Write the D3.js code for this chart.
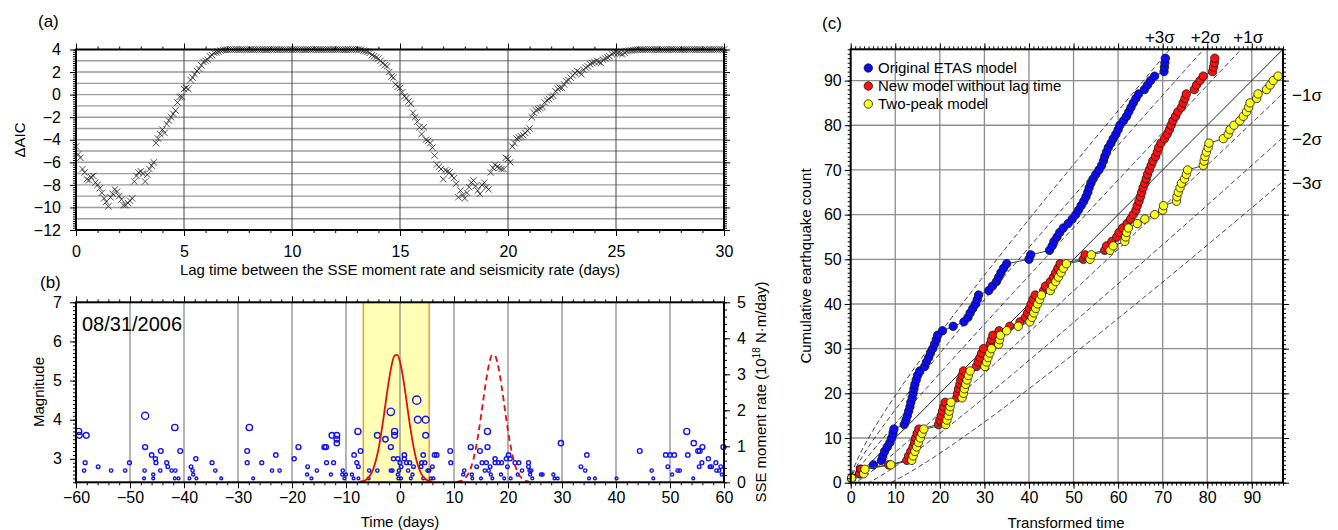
<!DOCTYPE html>
<html><head><meta charset="utf-8">
<script src="https://cdn.jsdelivr.net/npm/d3@7"></script>
<style>body{margin:0;background:#fff}svg{display:block}</style>
</head><body><svg id="chart" width="1338" height="530"></svg>
<script>
// ---------------- DATA ----------------
// (a) Delta AIC vs lag time (0.0 .. 30.0 days, every 0.1 day)
const lagDays = d3.range(0, 30.001, 0.1);
const deltaAIC = [
-4.6,-5.3,-5.6,-6.6,-6.9,-7.5,-7.6,-7.3,-7.2,-7.8,
-8.0,-8.3,-8.7,-9.2,-9.5,-9.9,-9.1,-8.8,-8.4,-8.6,
-9.0,-9.3,-9.8,-9.8,-9.6,-9.4,-9.2,-7.7,-7.2,-6.9,
-6.8,-7.0,-7.7,-7.1,-6.6,-6.3,-6.0,-4.3,-3.9,-3.5,
-3.1,-3.4,-2.6,-2.3,-2.0,-1.7,-1.4,-0.7,-0.2,-0.2,
0.5,0.6,0.5,1.3,1.5,1.8,2.1,2.3,2.6,2.9,
3.0,3.1,3.4,3.5,3.7,3.75,3.8,3.9,3.95,3.97,
3.98,3.99,4.00,3.99,4.00,4.00,3.99,4.00,3.99,
3.98,3.99,4.00,3.99,4.00,4.00,3.99,4.00,3.99,
3.98,3.99,4.00,3.99,4.00,4.00,3.99,4.00,3.99,
3.98,3.99,4.00,3.99,4.00,4.00,3.99,4.00,3.99,
3.98,3.99,4.00,3.99,4.00,4.00,3.99,4.00,3.99,
3.98,3.99,4.00,3.99,4.00,4.00,3.99,4.00,3.99,
3.98,3.99,4.00,3.99,4.00,4.00,3.99,4.00,3.99,
3.9,3.85,3.8,3.7,3.5,3.4,3.3,3.2,3.0,2.8,2.6,2.5,2.0,1.6,1.5,0.9,0.7,0.6,0.2,-0.15,-0.3,-0.6,-0.8,-1.6,-2.0,-2.4,-2.9,
-3.5,-2.9,-4.0,-4.1,-4.3,-4.7,-5.4,-6.2,-6.4,-6.6,
-7.5,-6.7,-6.8,-6.9,-7.2,-7.4,-7.9,-9.1,-8.5,-8.9,
-9.2,-8.7,-8.2,-7.8,-7.6,-8.1,-8.5,-8.8,-8.0,-7.8,
-8.2,-8.4,-6.9,-6.5,-6.2,-6.4,-6.5,-6.6,-6.6,-5.6,
-5.7,-6.0,-4.6,-4.3,-3.9,-3.8,-3.7,-3.6,-3.4,-3.2,
-3.0,-2.0,-1.6,-1.4,-1.3,-1.2,-1.1,-0.7,-0.5,-0.4,
-0.2,-0.1,0.3,0.5,0.6,0.6,0.9,1.2,1.3,1.5,
1.7,1.9,2.1,2.0,1.8,2.2,2.4,2.5,2.7,2.8,
2.9,3.0,2.9,2.8,3.1,3.2,3.3,3.4,3.6,3.7,
3.75,3.7,3.65,3.6,3.7,3.85,3.9,3.92,3.95,3.97,
3.98,3.99,3.99,4.00,3.99,4.00,4.00,3.99,4.00,4.00,
3.98,3.99,3.99,4.00,3.99,4.00,4.00,3.99,4.00,4.00,
3.98,3.99,3.99,4.00,3.99,4.00,4.00,3.99,4.00,4.00,
3.98,3.99,3.99,4.00,3.99,4.00,4.00,3.99,4.00,4.00,
4.00];
const aTicksX = [0,5,10,15,20,25,30];
const aTicksY = [4,2,0,-2,-4,-6,-8,-10,-12];

// (b) earthquakes: time (days) and magnitude
const eqTime = [-59.5,-59.4,-58.1,-58.3,-58.5,-55.9,-53.5,-50.9,-50.1,-47.2,-47.2,-47.3,-47.4,-46.0,-45.3,-45.2,-45.7,-45.7,-44.3,-44.4,-43.2,-43.0,-42.3,-41.7,-41.6,-41.7,-41.0,-40.7,-39.0,-38.7,-38.4,-38.3,-37.8,-37.7,-34.8,-34.2,-33.1,-28.3,-27.9,-28.3,-27.2,-25.6,-23.7,-23.0,-22.3,-19.6,-18.8,-17.1,-17.2,-16.4,-15.4,-14.0,-13.7,-13.6,-12.8,-12.6,-12.3,-11.7,-11.7,-11.7,-10.6,-10.7,-10.3,-10.0,-8.9,-8.5,-8.6,-7.8,-8.0,-7.7,-7.7,-7.3,-5.8,-5.7,-4.2,-4.2,-2.7,-1.7,-1.7,-1.7,-1.4,-1.0,-1.0,-1.2,-0.4,-0.2,-0.4,-0.3,0.2,0.2,0.8,
3.1,3.3,4.75,4.75,4.3,0.0,0.8,1.2,1.8,1.5,2.5,2.3,2.0,3.9,4.0,4.6,5.1,5.4,4.3,5.7,6.2,6.0,6.4,6.8,9.3,9.4,11.9,11.7,13.1,13.3,13.4,14.2,14.8,15.0,15.2,15.7,16.2,16.2,16.0,16.4,16.7,16.8,17.1,17.6,17.6,18.2,18.7,18.8,19.3,19.7,20.1,20.4,19.9,20.5,21.3,22.0,22.6,21.8,23.8,23.8,24.0,24.3,24.1,24.5,26.1,26.4,28.4,28.6,29.2,29.8,33.5,34.3,34.6,35.0,36.1,40.1,44.4,46.6,46.9,49.2,50.0,50.8,49.6,50.4,51.4,51.8,53.1,53.3,54.3,54.4,55.2,55.5,56.0,55.4,55.9,57.1,57.4,57.7,58.5,58.6,59.1,59.4,59.6,59.9];
const eqMag = [3.7,3.6,3.6,2.9,2.7,2.8,2.7,2.7,2.9,4.1,3.3,2.7,2.5,3.1,3.0,2.9,2.6,2.5,3.2,2.7,2.9,2.8,2.7,3.8,2.7,2.5,2.5,3.2,2.5,2.8,2.7,2.6,3.0,2.5,2.9,2.7,2.5,3.2,3.8,2.9,2.5,2.9,2.7,3.1,2.7,3.0,3.3,2.8,2.6,2.5,2.7,3.3,3.3,2.9,2.6,3.6,2.9,3.6,3.5,3.4,2.7,2.6,2.5,2.6,2.6,3.1,2.5,3.7,2.9,2.8,2.5,3.2,2.5,2.7,3.6,2.7,3.5,4.2,3.3,2.7,2.7,3.7,3.6,3.0,3.0,2.7,2.6,2.5,2.8,2.5,3.1,
4.5,4.0,4.0,3.6,3.1,2.9,3.0,2.9,2.9,2.7,2.8,2.6,2.5,2.8,2.9,2.9,2.7,2.7,2.5,2.5,2.5,2.8,3.1,3.1,3.2,2.9,2.7,2.6,3.3,2.6,2.5,2.8,3.2,2.5,2.9,2.7,3.7,3.3,2.9,2.7,2.8,2.6,2.5,3.0,2.9,2.9,2.6,2.9,2.5,3.0,3.1,3.0,2.8,2.5,2.9,2.9,2.7,2.6,2.9,2.8,2.7,2.7,2.6,2.5,2.6,2.6,2.6,2.5,2.5,3.4,2.8,2.7,3.1,2.5,2.5,2.5,3.2,2.7,2.5,3.1,3.1,3.1,2.8,2.6,2.7,2.7,3.7,3.1,2.5,3.4,3.2,3.2,3.3,2.8,2.9,3.0,2.8,2.8,2.9,2.7,2.7,2.8,2.6,3.3];
// SSE moment rate (1e18 N m/day): observed and lagged
const sseTime = [-7.5,-7,-6.5,-6,-5.5,-5,-4.5,-4,-3.5,-3,-2.5,-2,-1.5,-1,-0.5,0,0.5,1,1.5,2,2.5,3,3.5,4,4.5,5,5.5,6];
const sseRate = [0.01,0.03,0.05,0.11,0.2,0.35,0.59,0.91,1.34,1.84,2.38,2.88,3.29,3.52,3.54,3.35,2.97,2.48,1.94,1.43,0.99,0.64,0.39,0.22,0.12,0.06,0.03,0.01];
const sseLagTime = [10.5,11,11.5,12,12.5,13,13.5,14,14.5,15,15.5,16,16.5,17,17.5,18,18.5,19,19.5,20,20.5,21,21.5,22,22.5,23,23.5,24];
const sseLagRate = [0.01,0.03,0.05,0.11,0.2,0.35,0.59,0.91,1.34,1.84,2.38,2.88,3.29,3.52,3.54,3.35,2.97,2.48,1.94,1.43,0.99,0.64,0.39,0.22,0.12,0.06,0.03,0.01];
const bandRange = [-6.8, 5.4];
const bTicksX = [-60,-50,-40,-30,-20,-10,0,10,20,30,40,50,60];
const bTicksMag = [3,4,5,6,7];
const bTicksRate = [0,1,2,3,4,5];
const dateLabel = "08/31/2006";

// (c) transformed times of successive earthquakes (count = index + 1)
const etasTimes = [0.2,2.0,2.2,5.1,6.9,7.2,7.6,8.2,8.8,9.2,9.5,9.7,12.0,12.4,12.7,13.0,13.3,13.5,13.8,14.0,14.2,14.4,14.7,15.0,15.5,16.6,17.0,17.5,17.9,18.4,18.8,19.2,19.5,20.6,23.0,25.4,26.3,26.8,27.4,28.0,28.4,28.7,31.0,31.8,32.7,33.2,33.7,34.3,35.0,40.0,40.4,44.6,45.2,45.6,46.3,46.9,47.7,48.8,49.7,50.5,51.1,51.7,52.3,52.8,53.2,53.5,53.9,54.4,55.0,55.7,56.3,56.7,57.0,57.4,57.8,58.4,58.9,59.5,60.0,60.4,61.2,61.9,62.4,62.9,63.4,64.0,64.6,65.9,66.6,67.3,68.2,70.3,70.4,70.5,70.6];
const noLagTimes = [0.2,2.0,2.3,8.5,12.6,13.0,13.5,14.0,14.3,14.6,14.9,15.3,19.7,20.0,20.3,20.6,20.9,21.2,23.8,24.0,24.2,24.5,24.7,25.0,25.3,28.2,28.6,29.0,29.4,29.8,31.3,31.6,31.9,33.3,35.7,38.0,39.2,39.7,40.1,40.5,40.9,41.4,43.3,43.7,44.8,45.5,46.0,46.5,47.0,52.2,52.6,57.0,57.4,58.6,59.7,60.2,61.0,62.0,62.8,63.4,64.0,64.3,64.7,65.0,65.3,65.6,66.0,66.3,66.6,67.0,67.4,67.8,68.4,68.8,69.1,69.6,70.4,71.0,71.5,71.9,72.3,72.9,73.4,74.2,74.6,75.0,75.3,77.1,77.6,78.4,79.1,81.2,81.4,81.6,81.7];
const twoPeakTimes = [0.2,2.9,3.2,9.0,13.7,14.0,14.4,14.8,15.2,15.6,16.0,16.4,21.3,21.6,21.9,22.1,22.3,22.5,25.0,25.3,25.5,25.8,26.1,26.4,26.8,30.1,30.5,30.8,31.2,31.6,33.2,33.4,33.6,35.0,37.6,40.2,40.7,41.1,41.5,41.9,42.4,42.8,44.8,45.3,46.0,46.6,47.2,47.7,48.4,53.7,54.0,58.2,58.9,61.5,61.7,61.9,62.3,64.3,66.0,68.2,70.0,70.2,73.1,73.2,73.5,73.9,74.2,74.9,75.3,75.6,79.1,79.3,79.5,79.8,80.2,80.4,83.6,84.7,85.1,86.0,87.3,88.1,88.8,89.3,89.6,91.1,91.4,93.3,94.1,94.8,95.9];
const seriesNames = ["Original ETAS model","New model without lag time","Two-peak model"];
const seriesColors = ["#0a0aff","#ff1010","#ffff1a"];
const sigmaLevels = [1,2,3];
const cTicks = [0,10,20,30,40,50,60,70,80,90];

// ---------------- DRAWING ----------------
const FONT = '"Liberation Sans", Arial, Helvetica, sans-serif';
const svg = d3.select("#chart").attr("font-family", FONT);
const minusFmt = d3.format("d");

function axisG(gen, tx, ty, fs) {
  const g = svg.append("g").attr("transform", `translate(${tx},${ty})`).call(gen);
  g.attr("font-family", FONT).attr("font-size", fs || 16);
  g.select(".domain").remove();
  g.selectAll(".tick line").attr("stroke", "#000").attr("stroke-width", 1);
  g.selectAll(".tick text").attr("fill", "#000");
  return g;
}
function frame(x0, x1, y0, y1) {
  svg.append("rect").attr("x", x0).attr("y", y0).attr("width", x1 - x0).attr("height", y1 - y0)
    .attr("fill", "none").attr("stroke", "#000").attr("stroke-width", 2);
}
function label(x, y, txt, fs, anchor) {
  return svg.append("text").attr("x", x).attr("y", y).attr("font-size", fs).attr("text-anchor", anchor || "start").attr("fill", "#000").text(txt);
}

// ===== Panel (a) =====
const xA = d3.scaleLinear().domain([0, 30]).range([76, 724]);
const yA = d3.scaleLinear().domain([-12, 4]).range([230, 49.5]);
svg.append("g").selectAll("line").data(d3.range(-11, 4)).join("line")
  .attr("x1", xA(0)).attr("x2", xA(30)).attr("y1", d => yA(d)).attr("y2", d => yA(d))
  .attr("stroke", "#9c9c9c").attr("stroke-width", 1.4);
svg.append("g").selectAll("line").data(aTicksX.slice(1, -1)).join("line")
  .attr("x1", d => xA(d)).attr("x2", d => xA(d)).attr("y1", yA(4)).attr("y2", yA(-12))
  .attr("stroke", "#444").attr("stroke-width", 1);
svg.append("g").selectAll("path").data(deltaAIC).join("path")
  .attr("transform", (d, i) => `translate(${xA(lagDays[i])},${yA(d)})`)
  .attr("d", "M-3.2,-3.2L3.2,3.2M-3.2,3.2L3.2,-3.2")
  .attr("stroke", "#222").attr("stroke-width", 0.8).attr("fill", "none");
axisG(d3.axisBottom(xA).tickValues(aTicksX).tickSize(6).tickPadding(10).tickFormat(minusFmt), 0, 230);
axisG(d3.axisBottom(xA).tickValues(d3.range(0, 31, 1)).tickSize(3).tickFormat(""), 0, 230);
axisG(d3.axisTop(xA).tickValues(aTicksX).tickSize(6).tickFormat(""), 0, 49.5);
axisG(d3.axisTop(xA).tickValues(d3.range(0, 31, 1)).tickSize(3).tickFormat(""), 0, 49.5);
axisG(d3.axisLeft(yA).tickValues(aTicksY).tickSize(6).tickPadding(9).tickFormat(minusFmt), 76, 0);
axisG(d3.axisLeft(yA).tickValues(d3.range(-12, 4.001, 0.2)).tickSize(3).tickFormat(""), 76, 0);
axisG(d3.axisRight(yA).tickValues(aTicksY).tickSize(6).tickFormat(""), 724, 0);
axisG(d3.axisRight(yA).tickValues(d3.range(-12, 4.001, 0.2)).tickSize(3).tickFormat(""), 724, 0);
frame(76, 724, 49.5, 230);
label(38, 27, "(a)", 17);
label(400, 275, "Lag time between the SSE moment rate and seismicity rate (days)", 15, "middle");
svg.append("text").attr("transform", "translate(25,140) rotate(-90)").attr("text-anchor", "middle")
  .attr("font-size", 15).text("ΔAIC");

// ===== Panel (b) =====
const xB = d3.scaleLinear().domain([-60, 60]).range([76, 724]);
const yM = d3.scaleLinear().domain([2.4, 7]).range([482.3, 302.3]);
const yR = d3.scaleLinear().domain([0, 5]).range([482.3, 302.3]);
svg.append("defs").append("clipPath").attr("id", "clipB").append("rect")
  .attr("x", 76).attr("y", 302.3).attr("width", 648).attr("height", 180);
svg.append("rect").attr("x", xB(bandRange[0])).attr("y", 302.3)
  .attr("width", xB(bandRange[1]) - xB(bandRange[0])).attr("height", 180).attr("fill", "#ffffb6");
svg.append("g").selectAll("line").data(bandRange).join("line")
  .attr("x1", d => xB(d)).attr("x2", d => xB(d)).attr("y1", 302.3).attr("y2", 482.3)
  .attr("stroke", "#f2a531").attr("stroke-width", 1.6);
svg.append("g").selectAll("line").data(bTicksX.slice(1, -1)).join("line")
  .attr("x1", d => xB(d)).attr("x2", d => xB(d)).attr("y1", 302.3).attr("y2", 482.3)
  .attr("stroke", "#8c8c8c").attr("stroke-width", 1.3);
const rScale = m => 1.4 + (m - 2.5) * 1.35;
svg.append("g").selectAll("circle").data(eqMag).join("circle")
  .attr("cx", (d, i) => xB(eqTime[i])).attr("cy", d => yM(d)).attr("r", d => rScale(d))
  .attr("fill", "none").attr("stroke", "#1414f0").attr("stroke-width", 1.4);
const lineB = d3.line().curve(d3.curveMonotoneX);
svg.append("path").attr("clip-path", "url(#clipB)")
  .attr("d", lineB(sseTime.map((t, i) => [xB(t), yR(sseRate[i])])))
  .attr("fill", "none").attr("stroke", "#e01010").attr("stroke-width", 1.8);
svg.append("path").attr("clip-path", "url(#clipB)")
  .attr("d", lineB(sseLagTime.map((t, i) => [xB(t), yR(sseLagRate[i])])))
  .attr("fill", "none").attr("stroke", "#e01010").attr("stroke-width", 1.8).attr("stroke-dasharray", "6,4");
axisG(d3.axisBottom(xB).tickValues(bTicksX).tickSize(6).tickPadding(3).tickFormat(minusFmt), 0, 482.3);
axisG(d3.axisBottom(xB).tickValues(d3.range(-60, 61, 2)).tickSize(3).tickFormat(""), 0, 482.3);
axisG(d3.axisTop(xB).tickValues(bTicksX).tickSize(6).tickFormat(""), 0, 302.3);
axisG(d3.axisTop(xB).tickValues(d3.range(-60, 61, 2)).tickSize(3).tickFormat(""), 0, 302.3);
axisG(d3.axisLeft(yM).tickValues(bTicksMag).tickSize(6).tickPadding(8).tickFormat(minusFmt), 76, 0);
axisG(d3.axisLeft(yM).tickValues(d3.range(2.4, 7.001, 0.1)).tickSize(3).tickFormat(""), 76, 0);
axisG(d3.axisRight(yR).tickValues(bTicksRate).tickSize(6).tickPadding(7).tickFormat(minusFmt), 724, 0);
axisG(d3.axisRight(yR).tickValues(d3.range(0, 5.001, 0.2)).tickSize(3).tickFormat(""), 724, 0);
frame(76, 724, 302.3, 482.3);
label(40, 288, "(b)", 17);
label(82, 331, dateLabel, 20);
label(400, 527, "Time (days)", 15, "middle");
svg.append("text").attr("transform", "translate(44,392) rotate(-90)").attr("text-anchor", "middle")
  .attr("font-size", 15).text("Magnitude");
const rt = svg.append("text").attr("transform", "translate(766,392) rotate(-90)").attr("text-anchor", "middle").attr("font-size", 15);
rt.append("tspan").text("SSE moment rate (10");
rt.append("tspan").attr("dy", -6).attr("font-size", 10).text("18");
rt.append("tspan").attr("dy", 6).text(" N·m/day)");

// ===== Panel (c) =====
const xC = d3.scaleLinear().domain([0, 97]).range([850.7, 1283]);
const yC = d3.scaleLinear().domain([0, 97]).range([482.7, 49.3]);
svg.append("defs").append("clipPath").attr("id", "clipC").append("rect")
  .attr("x", 850.7).attr("y", 49.3).attr("width", 1283 - 850.7).attr("height", 482.7 - 49.3);
svg.append("g").selectAll("line").data(cTicks.slice(1)).join("line")
  .attr("x1", d => xC(d)).attr("x2", d => xC(d)).attr("y1", yC(0)).attr("y2", yC(97))
  .attr("stroke", "#8c8c8c").attr("stroke-width", 1.3);
svg.append("g").selectAll("line").data(cTicks.slice(1)).join("line")
  .attr("y1", d => yC(d)).attr("y2", d => yC(d)).attr("x1", xC(0)).attr("x2", xC(97))
  .attr("stroke", "#8c8c8c").attr("stroke-width", 1.3);
// confidence bands: expected count t +/- k*sqrt(t)
const tGrid = d3.range(0, 97.001, 0.25);
const gBand = svg.append("g").attr("clip-path", "url(#clipC)");
sigmaLevels.forEach(k => {
  [1, -1].forEach(s => {
    const pts = tGrid.map(t => [t, t + s * k * Math.sqrt(t)]).filter(p => p[1] >= 0 && p[1] <= 99);
    gBand.append("path").attr("d", d3.line()(pts.map(p => [xC(p[0]), yC(p[1])])))
      .attr("fill", "none").attr("stroke", "#222").attr("stroke-width", 0.9).attr("stroke-dasharray", "5,3");
  });
});
gBand.append("line").attr("x1", xC(0)).attr("y1", yC(0)).attr("x2", xC(97)).attr("y2", yC(97))
  .attr("stroke", "#222").attr("stroke-width", 1);
[etasTimes, noLagTimes, twoPeakTimes].forEach((arr, si) => {
  const pts = arr.map((t, i) => [xC(t), yC(i + 1)]);
  svg.append("path").attr("d", d3.line()(pts)).attr("fill", "none").attr("stroke", "#444").attr("stroke-width", 1);
  svg.append("g").selectAll("circle").data(pts).join("circle")
    .attr("cx", d => d[0]).attr("cy", d => d[1]).attr("r", 4.2)
    .attr("fill", seriesColors[si]).attr("stroke", "#111").attr("stroke-width", 0.8);
});
axisG(d3.axisBottom(xC).tickValues(cTicks).tickSize(6).tickPadding(3).tickFormat(minusFmt), 0, 482.7);
axisG(d3.axisBottom(xC).tickValues(d3.range(0, 98, 1)).tickSize(3).tickFormat(""), 0, 482.7);
axisG(d3.axisTop(xC).tickValues(cTicks).tickSize(6).tickFormat(""), 0, 49.3);
axisG(d3.axisTop(xC).tickValues(d3.range(0, 98, 1)).tickSize(3).tickFormat(""), 0, 49.3);
axisG(d3.axisLeft(yC).tickValues(cTicks).tickSize(6).tickPadding(3).tickFormat(minusFmt), 850.7, 0);
axisG(d3.axisLeft(yC).tickValues(d3.range(0, 98, 1)).tickSize(3).tickFormat(""), 850.7, 0);
axisG(d3.axisRight(yC).tickValues(cTicks).tickSize(6).tickFormat(""), 1283, 0);
axisG(d3.axisRight(yC).tickValues(d3.range(0, 98, 1)).tickSize(3).tickFormat(""), 1283, 0);
frame(850.7, 1283, 49.3, 482.7);
// legend
seriesNames.forEach((n, i) => {
  svg.append("circle").attr("cx", 868.3).attr("cy", 68 + i * 18).attr("r", 4.2)
    .attr("fill", seriesColors[i]).attr("stroke", "#111").attr("stroke-width", 0.8);
  label(878, 73 + i * 18, n, 15);
});
// sigma labels
const upDx = [7, 2, -10];
sigmaLevels.forEach((k, i) => {
  const sq = (-k + Math.sqrt(k * k + 4 * 97)) / 2; // t where t + k sqrt(t) = 97
  label(xC(sq * sq) + upDx[k - 1], 43, "+" + k + "σ", 17, "middle");
  label(1292, yC(97 - k * Math.sqrt(97)) + 8, "−" + k + "σ", 17, "start");
});
label(822, 29, "(c)", 17);
label(1066, 528, "Transformed time", 15, "middle");
svg.append("text").attr("transform", "translate(811,266) rotate(-90)").attr("text-anchor", "middle")
  .attr("font-size", 15).text("Cumulative earthquake count");
</script></body></html>
